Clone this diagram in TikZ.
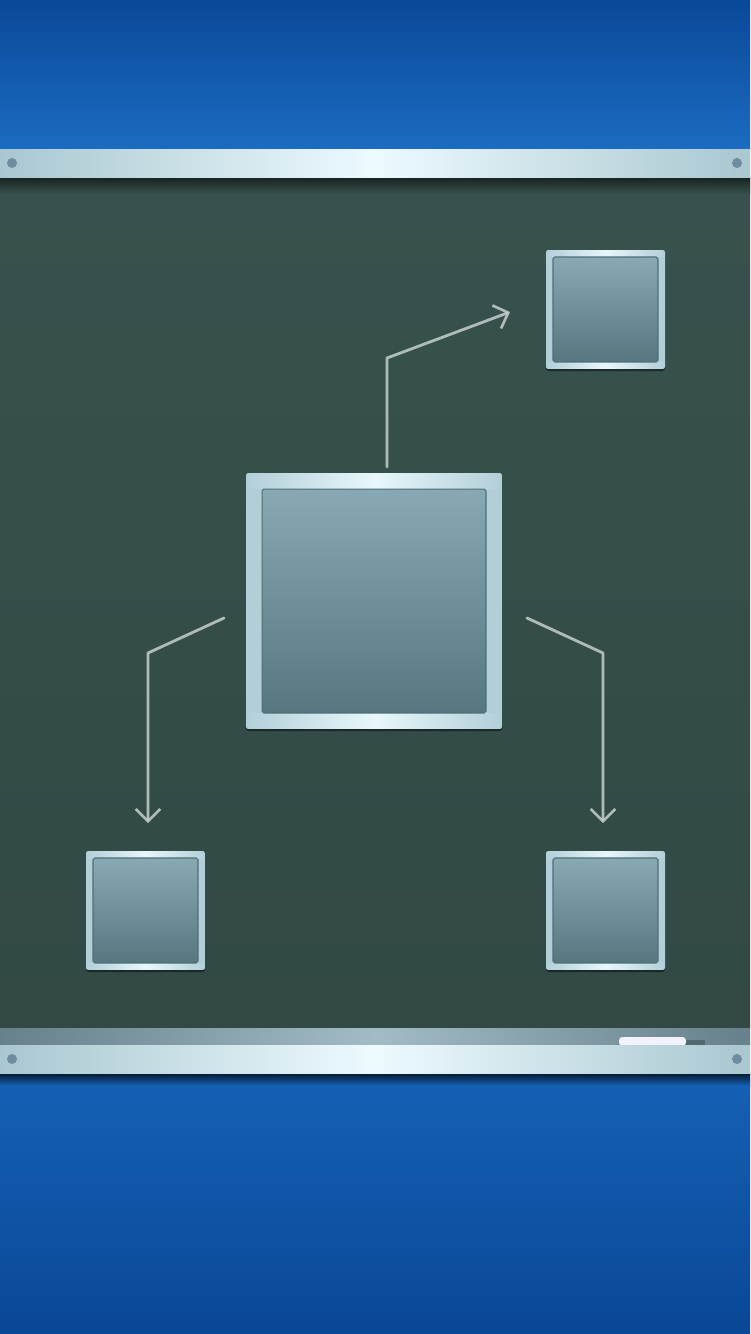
\documentclass[tikz,border=0pt]{standalone}
\usetikzlibrary{arrows.meta,shadows}

\definecolor{skytop}{HTML}{0A4899}
\definecolor{skylow}{HTML}{1B6CC1}
\definecolor{seatop}{HTML}{1561B6}
\definecolor{sealow}{HTML}{0A4796}
\definecolor{railside}{HTML}{A9C7D0}
\definecolor{railmid}{HTML}{EDFAFE}
\definecolor{screwgrey}{HTML}{6F8BA0}
\definecolor{boardtop}{HTML}{37524E}
\definecolor{boardlow}{HTML}{324945}
\definecolor{trayside}{HTML}{66808C}
\definecolor{traymid}{HTML}{A2BBC5}
\definecolor{rimblue}{HTML}{B2CFD8}
\definecolor{rimlight}{HTML}{E8F7FB}
\definecolor{paneltop}{HTML}{88A8B4}
\definecolor{panellow}{HTML}{567780}
\definecolor{paneledge}{HTML}{4E6E78}
\definecolor{chalkwhite}{HTML}{C6CFCB}

\begin{document}
\begin{tikzpicture}
	[x=0.02cm, y=-0.02cm,
	rail/.style={left color=railside, right color=railside, middle color=railmid},
	screw/.style={fill=screwgrey},
	chalk/.style={draw=chalkwhite, line width=1.6pt, line cap=round, line join=round,
		opacity=.85, -{Straight Barb[length=7pt,width=14pt,line width=1.5pt]}},
	frame/.style 2 args={rectangle, inner sep=0pt, outer sep=0pt, minimum size=#1,
		fill=rimblue, rounded corners=1.5pt,
		drop shadow={shadow xshift=0pt, shadow yshift=-1.2pt, opacity=.45, fill=black},
		path picture={
			\shade[left color=rimblue, right color=rimblue, middle color=rimlight]
				(path picture bounding box.north west) rectangle ([shift={(0,#2)}]path picture bounding box.north east);
			\shade[left color=rimblue, right color=rimblue, middle color=rimlight]
				([shift={(0,-#2)}]path picture bounding box.south west) rectangle (path picture bounding box.south east);
			\shade[top color=paneltop, bottom color=panellow, draw=paneledge, line width=.6pt, rounded corners=1pt]
				([shift={(#2,#2)}]path picture bounding box.north west) rectangle ([shift={(-#2,-#2)}]path picture bounding box.south east);
		}}]
	\useasboundingbox (0,0) rectangle (750,1334);
	% sky and floor
	\shade[top color=skytop, bottom color=skylow] (0,0) rectangle (750,150);
	\shade[top color=seatop, bottom color=sealow] (0,1073) rectangle (750,1334);
	\shade[top color=black!75!seatop, bottom color=seatop] (0,1073) rectangle (750,1086);
	% board
	\shade[top color=boardtop, bottom color=boardlow] (0,178) rectangle (750,1028);
	\shade[top color=black!55!boardtop, bottom color=boardtop] (0,178) rectangle (750,194);
	% tray and chalk
	\shade[left color=trayside, right color=trayside, middle color=traymid] (0,1028) rectangle (750,1045);
	\fill[trayside!80!black] (684,1040) rectangle (705,1045);
	\fill[white!95!blue, rounded corners=2pt] (619,1037) rectangle (686,1046);
	% rails
	\shade[rail] (0,150) rectangle (750,178);
	\shade[rail] (0,1045) rectangle (750,1073);
	\foreach \y in {163,1059} {
		\fill[screw] (12,\y) circle (5);
		\fill[screw] (737,\y) circle (5);
	}
	% frames
	\node[frame={5.12cm}{16}] (main) at (374,601) {};
	\node[frame={2.38cm}{7}] (tr) at (605.5,309.5) {};
	\node[frame={2.38cm}{7}] (bl) at (145.5,910.5) {};
	\node[frame={2.38cm}{7}] (br) at (605.5,910.5) {};
	% chalk arrows
	\draw[chalk] ([shift={(13,-6)}]main.north) -- ++(0,-109) -- ([shift={(-36,2.5)}]tr.west);
	\draw[chalk] ([shift={(-22,17)}]main.west) -- ++(-76,35) -- ([shift={(2.5,-28)}]bl.north);
	\draw[chalk] ([shift={(25,17)}]main.east) -- ++(76,35) -- ([shift={(-2.5,-28)}]br.north);
\end{tikzpicture}
\end{document}
